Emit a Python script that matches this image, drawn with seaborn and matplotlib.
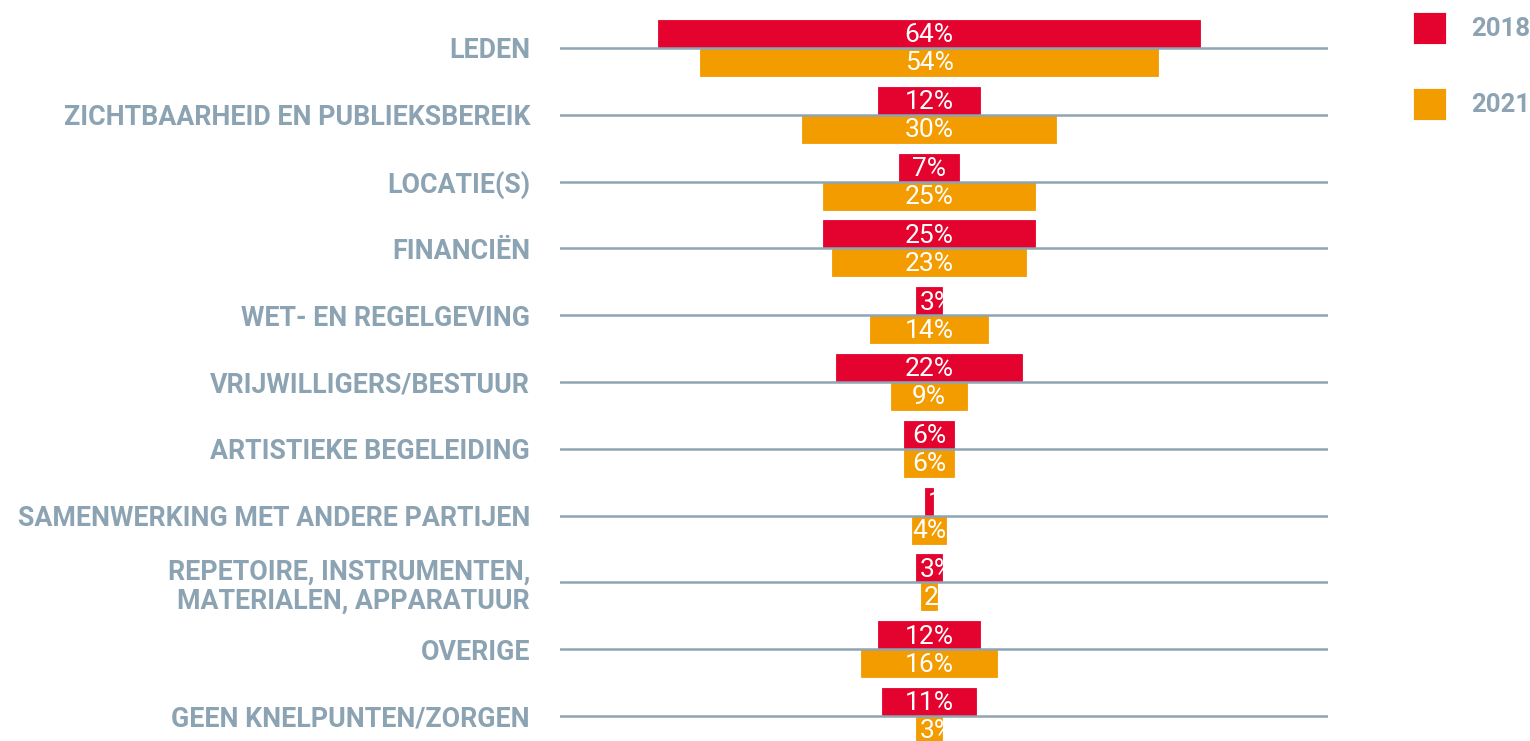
import numpy as np
import pandas as pd
import matplotlib
matplotlib.use("Agg")
import matplotlib.pyplot as plt
from matplotlib.patches import Rectangle
import seaborn as sns

categories = [
    "LEDEN",
    "ZICHTBAARHEID EN PUBLIEKSBEREIK",
    "LOCATIE(S)",
    "FINANCIËN",
    "WET- EN REGELGEVING",
    "VRIJWILLIGERS/BESTUUR",
    "ARTISTIEKE BEGELEIDING",
    "SAMENWERKING MET ANDERE PARTIJEN",
    "REPETOIRE, INSTRUMENTEN,\nMATERIALEN, APPARATUUR",
    "OVERIGE",
    "GEEN KNELPUNTEN/ZORGEN",
]
years = ["2018", "2021"]
values_2018 = [64, 12, 7, 25, 3, 22, 6, 1, 3, 12, 11]
values_2021 = [54, 30, 25, 23, 14, 9, 6, 4, 2, 16, 3]

RED = "#e4032e"
ORANGE = "#f39c00"
GREY = "#8ba3b2"
palette = {"2018": RED, "2021": ORANGE}

sns.set_theme(style="white")
plt.rcParams["font.family"] = ["Roboto", "DejaVu Sans"]

fig = plt.figure(figsize=(15.3, 7.41), dpi=100)
ax = fig.add_axes([560 / 1530, 0, (1328 - 560) / 1530, 1])

series = {"2018": values_2018, "2021": values_2021}
df = pd.concat([
    pd.DataFrame({"category": categories, "value": series[yr], "year": yr})
    for yr in years
], ignore_index=True)
df["right"] = df["value"] / 2
df["left"] = -df["value"] / 2

for col, show_leg in (("right", True), ("left", False)):
    sns.barplot(
        data=df, x=col, y="category", hue="year", hue_order=years,
        order=categories, palette=palette, saturation=1, dodge=True,
        width=0.84, errorbar=None, legend=show_leg, linewidth=0.6, ax=ax,
    )
# match edges to face colours so the two halves join seamlessly
for cont in ax.containers:
    for bar in cont:
        bar.set_edgecolor(bar.get_facecolor())

ax.set_xlim(-369 / 8.47, 399 / 8.47)
ax.set_ylim((741 - 48) / 66.8, -48 / 66.8)

# value labels, clipped to their bars
renderer = fig.canvas.get_renderer()
px_per_unit = ax.transData.transform((1, 0))[0] - ax.transData.transform((0, 0))[0]
for yi, yr in enumerate(years):
    rc = ax.containers[yi]
    for bar, v in zip(rc, series[yr]):
        y0, h = bar.get_y(), bar.get_height()
        clip = Rectangle((-v / 2, y0), v, h, transform=ax.transData)
        t = ax.text(0, y0 + h / 2 + 0.02, f"{v}%", color="white",
                    ha="center", va="center", fontsize=19, fontweight="normal",
                    zorder=4)
        tw = t.get_window_extent(renderer).width
        if tw > v * px_per_unit + 4:
            t.set_ha("left")
            t.set_x(-v / 2 + 3 / px_per_unit)
        t.set_clip_path(clip)

ax.set_xlabel("")
ax.set_ylabel("")
ax.set_xticks([])
ax.set_yticks(range(len(categories)))
ax.set_yticklabels(categories, fontsize=19.3, fontweight="bold", color=GREY,
                   linespacing=1.12)
ax.tick_params(axis="y", length=0, pad=21.6)
for lab in ax.get_yticklabels():
    lab.set_multialignment("right")
ax.yaxis.grid(True, color="#8fa5b3", linewidth=1.8)
ax.xaxis.grid(False)
ax.set_axisbelow(False)
for s in ax.spines.values():
    s.set_visible(False)

leg = ax.legend_
handles = leg.legend_handles
labels = [t.get_text() for t in leg.get_texts()]
leg.remove()
fs = 18.5
fig.legend(handles, labels, loc="upper left",
           bbox_to_anchor=(1413 / 1530, 1 - 12 / 741), frameon=False,
           prop={"weight": "bold", "size": fs},
           handlelength=1.28, handleheight=1.54, labelspacing=1.71,
           handletextpad=1.0, borderpad=0, borderaxespad=0)
for t in fig.legends[0].get_texts():
    t.set_color(GREY)

fig.savefig("out.png", dpi=100)
